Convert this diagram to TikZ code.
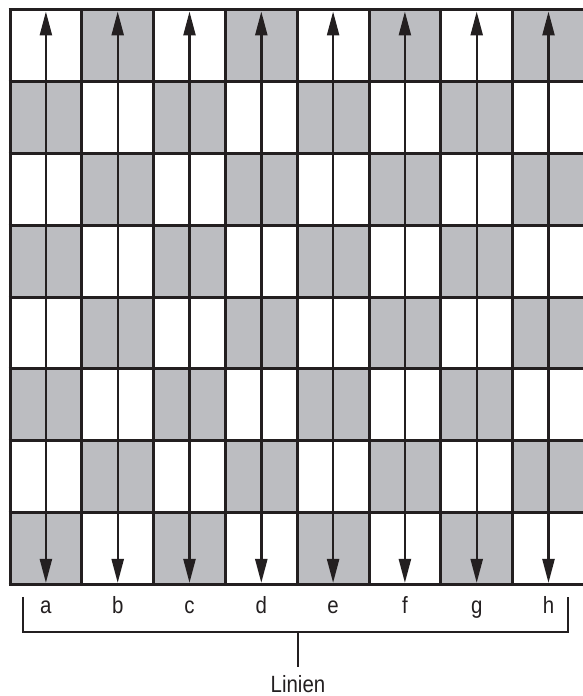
\documentclass[tikz,border=0pt]{standalone}
\usepackage{fontspec}
\setmainfont[FakeStretch=0.87]{Liberation Sans}
\usetikzlibrary{arrows.meta}
\definecolor{sq}{HTML}{BCBDC1}
\definecolor{ink}{HTML}{231F20}
\tikzset{
  grid/.style={draw=ink,line width=3pt},
  filearrow/.style={draw=ink,line width=2.4pt,{Triangle[length=24pt,width=12pt]}-{Triangle[length=24pt,width=12pt]}},
  bracket/.style={draw=ink,line width=1.1pt},
  lbl/.style={font=\fontsize{23.5}{26}\selectfont,text=ink,inner sep=0pt,anchor=base}
}
\begin{document}
\begin{tikzpicture}[x=1pt,y=1pt]
\useasboundingbox (0,0) rectangle (583,696);
\fill[white] (0,0) rectangle (583,696);
\def\s{71.8}
\def\xo{10}
\def\yt{686}
% squares
\foreach \c in {0,...,7}{
  \foreach \r in {0,...,7}{
    \pgfmathtruncatemacro{\p}{mod(\c+\r,2)}
    \ifnum\p=1
      \fill[sq] ({\xo+\c*\s},{\yt-\r*\s}) rectangle ({\xo+(\c+1)*\s},{\yt-(\r+1)*\s});
    \fi
  }
}
% grid
\foreach \i in {0,...,8}{
  \draw[grid] ({\xo+\i*\s},{\yt+1.5}) -- ({\xo+\i*\s},{\yt-8*\s-1.5});
  \draw[grid] ({\xo-1.5},{\yt-\i*\s}) -- ({\xo+8*\s+1.5},{\yt-\i*\s});
}
% arrows
\foreach \f [count=\c from 0] in {a,b,c,d,e,f,g,h}{
  \coordinate (top\f) at ({\xo+(\c+0.5)*\s},{\yt-1.5});
  \coordinate (bot\f) at ({\xo+(\c+0.5)*\s},{\yt-8*\s+1.5});
  \draw[filearrow] (bot\f) -- (top\f);
  \node[lbl] (l\f) at ({\xo+(\c+0.5)*\s},82) {\f};
}
% bracket
\coordinate (bl) at (23,99);
\coordinate (blb) at (23,64);
\coordinate (br) at (568,99);
\coordinate (brb) at (568,64);
\coordinate (mid) at (298,64);
\coordinate (midb) at (298,29);
\draw[bracket] (bl) -- (blb) -- (brb) -- (br);
\draw[bracket] (mid) -- (midb);
\node[lbl] (lin) at (298,4) {Linien};
\end{tikzpicture}
\end{document}
